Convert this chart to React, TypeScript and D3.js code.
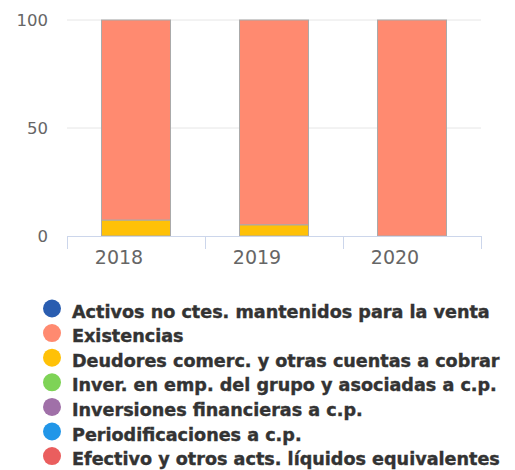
import { useEffect, useRef } from "react";
import * as d3 from "d3";

const years = ["2018", "2019", "2020"];
const seriesNames = [
  "Activos no ctes. mantenidos para la venta",
  "Existencias",
  "Deudores comerc. y otras cuentas a cobrar",
  "Inver. en emp. del grupo y asociadas a c.p.",
  "Inversiones financieras a c.p.",
  "Periodificaciones a c.p.",
  "Efectivo y otros acts. líquidos equivalentes",
];
const seriesColors = ["#2a5db0", "#ff8a70", "#ffc107", "#7ed356", "#a070a8", "#2196e8", "#ea5e5e"];
// percentage per year, one array per series
const activosVenta = [0, 0, 0];
const existencias = [92.6, 94.8, 100];
const deudores = [7.4, 5.2, 0];
const inverGrupo = [0, 0, 0];
const inverFinancieras = [0, 0, 0];
const periodificaciones = [0, 0, 0];
const efectivo = [0, 0, 0];
const yTicks = [0, 50, 100];

const App = () => {
  const container = useRef<SVGSVGElement>(null);

  useEffect(() => {
    const svg = d3.select(container.current);
    svg.selectAll("*").remove();

    const values = [activosVenta, existencias, deudores, inverGrupo, inverFinancieras, periodificaciones, efectivo];
    const rows = years.map((yr, i) => {
      const r: any = { year: yr };
      seriesNames.forEach((n, k) => { r[n] = values[k][i]; });
      return r;
    });
    // stack bottom-up so that existencias sits on top of deudores
    const order = [6, 5, 4, 3, 2, 1, 0].map((k) => seriesNames[k]);
    const stacked = d3.stack().keys(order)(rows);

    const x = d3.scaleBand().domain(years).range([67, 481]).paddingInner(0.5).paddingOuter(0.25);
    const y = d3.scaleLinear().domain([0, 100]).range([236, 20]);

    const grid = svg.append("g");
    yTicks.filter((t) => t > 0).forEach((t) => {
      grid.append("line").attr("x1", 67).attr("x2", 481).attr("y1", y(t)).attr("y2", y(t))
        .attr("stroke", "#e6e6e6").attr("stroke-width", 1);
    });
    yTicks.forEach((t) => {
      svg.append("text").attr("x", 48).attr("y", y(t)).attr("dy", "0.35em")
        .attr("text-anchor", "end").attr("fill", "#666")
        .style("font-family", "DejaVu Sans").style("font-size", "16.5px").text(t);
    });

    svg.append("g").selectAll("g").data(stacked).join("g")
      .attr("fill", (d) => seriesColors[seriesNames.indexOf(d.key)])
      .selectAll("rect").data((d) => d.filter((p) => p[1] - p[0] > 0)).join("rect")
      .attr("x", (d: any) => x(d.data.year)!)
      .attr("width", x.bandwidth())
      .attr("y", (d) => y(d[1]))
      .attr("height", (d) => y(d[0]) - y(d[1]))
      .attr("stroke", "#aaaaaa").attr("stroke-width", 1);

    // x axis
    const ax = svg.append("g");
    ax.append("line").attr("x1", 67).attr("x2", 481).attr("y1", 236.5).attr("y2", 236.5)
      .attr("stroke", "#ccd6eb");
    [0, 1, 2, 3].forEach((i) => {
      const tx = Math.round(67 + i * (414 / 3)) + 0.5;
      ax.append("line").attr("x1", tx).attr("x2", tx).attr("y1", 236).attr("y2", 249)
        .attr("stroke", "#ccd6eb");
    });
    years.forEach((yr) => {
      ax.append("text").attr("x", x(yr)! + x.bandwidth() / 2 - 17).attr("y", 257.5).attr("dy", "0.35em")
        .attr("text-anchor", "middle").attr("fill", "#666")
        .style("font-family", "DejaVu Sans").style("font-size", "19px").text(yr);
    });

    const legend = svg.append("g");
    seriesNames.forEach((n, k) => {
      const ly = 308.5 + k * 24.6;
      legend.append("circle").attr("cx", 52).attr("cy", ly).attr("r", 9).attr("fill", seriesColors[k]);
      legend.append("text").attr("x", 72).attr("y", ly + 3).attr("dy", "0.35em")
        .attr("fill", "#333").style("font-family", "DejaVu Sans").style("font-weight", "bold")
        .attr("stroke", "#333").attr("stroke-width", 0.4)
        .style("font-size", "17.6px").text(n);
    });
  }, []);

  return (
    <svg ref={container} width={515} height={470} style={{ position: "absolute", left: 0, top: 0 }} />
  );
};

export default App;
